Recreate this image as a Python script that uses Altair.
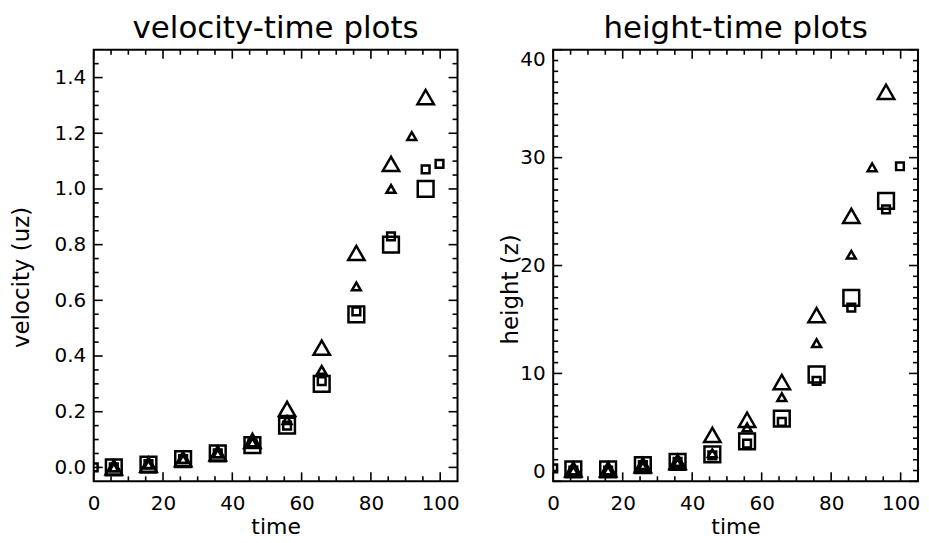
import altair as alt
import pandas as pd

# ---------------- data ----------------
t_big = [5.8, 15.8, 25.8, 35.8, 45.8, 55.8, 65.8, 75.8, 85.8, 95.8]
t_small_tri = [5.8, 15.8, 25.8, 35.8, 45.8, 55.8, 65.8, 75.8, 85.8, 91.8]
t_small_sq = [0.0, 5.8, 15.8, 25.8, 35.8, 45.8, 55.8, 65.8, 75.8, 85.8, 95.8, 99.8]

# velocity panel
vel_big_sq = [0.0, 0.01, 0.03, 0.05, 0.08, 0.15, 0.30, 0.55, 0.80, 1.00]
vel_big_tri = [0.0, 0.01, 0.03, 0.05, 0.095, 0.21, 0.43, 0.77, 1.09, 1.33]
vel_small_tri = [0.0, 0.01, 0.03, 0.05, 0.09, 0.17, 0.35, 0.65, 1.00, 1.19]
vel_small_sq = [0.0, 0.0, 0.012, 0.03, 0.05, 0.085, 0.15, 0.31, 0.56, 0.83, 1.07, 1.09]

# height panel
hgt_big_sq = [1.1, 1.1, 1.5, 1.8, 2.5, 3.7, 5.8, 9.9, 17.0, 26.0]
hgt_big_tri = [1.1, 1.1, 1.5, 1.8, 4.3, 5.7, 9.2, 15.4, 24.6, 36.1]
hgt_small_tri = [1.0, 1.0, 1.4, 1.7, 2.6, 5.0, 7.8, 12.8, 21.0, 29.1]
hgt_small_sq = [1.2, 1.0, 1.0, 1.5, 1.8, 2.4, 3.5, 5.5, 9.3, 16.1, 25.2, 29.2]

# axis tick values
x_labels = [0, 20, 40, 60, 80, 100]
x_minor = [5, 10, 15, 25, 30, 35, 45, 50, 55, 65, 70, 75, 85, 90, 95]
vel_labels = [0.0, 0.2, 0.4, 0.6, 0.8, 1.0, 1.2, 1.4]
vel_minor = [0.05, 0.1, 0.15, 0.25, 0.3, 0.35, 0.45, 0.5, 0.55, 0.65, 0.7, 0.75,
             0.85, 0.9, 0.95, 1.05, 1.1, 1.15, 1.25, 1.3, 1.35, 1.45]
hgt_labels = [0, 10, 20, 30, 40]
hgt_minor = [v for v in range(1, 40) if v % 10 != 0]

H = 433
FONT = "DejaVu Sans"
MAJ, MIN = 9, 5


def panel(title, ytitle, ydomain, ylabels, yminor, yfmt, flush, W, ytx, yty,
          big_sq, big_tri, small_tri, small_sq):
    xs = alt.Scale(domain=[0, 105], nice=False, zero=False)
    ys = alt.Scale(domain=ydomain, nice=False, zero=False)
    xaxis = alt.Axis(values=x_labels, title="time", ticks=False, tickSize=0,
                     domain=False, grid=False, labelFlush=False, labelPadding=12,
                     labelFontSize=20, titleFontSize=22, titlePadding=3,
                     labelOverlap=False)
    yaxis = alt.Axis(values=ylabels, title=ytitle, format=yfmt, ticks=False,
                     tickSize=0, domain=False, grid=False, labelFlush=flush,
                     labelPadding=8, labelFontSize=20, titleFontSize=23,
                     titleX=ytx, titleY=yty, labelOverlap=False)

    def pts(tt, vv, shape, size):
        df = pd.DataFrame({"t": tt, "v": vv})
        return alt.Chart(df).mark_point(
            shape=shape, size=size, filled=False, color="black",
            strokeWidth=2.5, opacity=1, clip=True
        ).encode(x=alt.X("t:Q", scale=xs, axis=xaxis),
                 y=alt.Y("v:Q", scale=ys, axis=yaxis))

    layers = [
        pts(t_big, big_sq, "square", 250),
        pts(t_big, big_tri, "triangle-up", 270),
        pts(t_small_tri, small_tri, "triangle-up", 80),
        pts(t_small_sq, small_sq, "square", 60),
    ]

    def xticks(vals, length):
        df = pd.DataFrame({"t": vals})
        base = alt.Chart(df).mark_rule(color="black", strokeWidth=1.6)
        xe = alt.X("t:Q", scale=xs, axis=xaxis)
        return [
            base.encode(x=xe, y=alt.value(H), y2=alt.value(H - length)),
            base.encode(x=xe, y=alt.value(0), y2=alt.value(length)),
        ]

    def yticks(vals, length):
        df = pd.DataFrame({"v": vals})
        base = alt.Chart(df).mark_rule(color="black", strokeWidth=1.6)
        ye = alt.Y("v:Q", scale=ys, axis=yaxis)
        return [
            base.encode(y=ye, x=alt.value(0), x2=alt.value(length)),
            base.encode(y=ye, x=alt.value(W), x2=alt.value(W - length)),
        ]

    layers += xticks(x_labels, MAJ) + xticks(x_minor, MIN)
    layers += yticks(ylabels, MAJ) + yticks(yminor, MIN)

    return alt.layer(*layers).properties(
        width=W, height=H,
        title=alt.TitleParams(text=title, font=FONT, fontSize=31,
                              fontWeight="normal", color="black", offset=4,
                              anchor="middle"),
    )


left = panel("velocity-time plots", "velocity (uz)", [-0.05, 1.5], vel_labels,
             vel_minor, ".1f", False, 365, -60, 228, vel_big_sq, vel_big_tri,
             vel_small_tri, vel_small_sq)
right = panel("height-time plots", "height (z)", [0, 40], hgt_labels,
              hgt_minor, "d", True, 366, -31, 240, hgt_big_sq, hgt_big_tri,
              hgt_small_tri, hgt_small_sq)

chart = alt.hconcat(left, right, spacing=38).properties(
    padding={"left": 2, "top": 3, "right": 0, "bottom": 0},
    background="white",
).configure_view(stroke="black", strokeWidth=2).configure_axis(
    labelFont=FONT, titleFont=FONT, labelColor="black", titleColor="black",
    titleFontWeight="normal", labelFontWeight="normal",
)

chart.save("out.html", embed_options={"renderer": "svg", "actions": False})
